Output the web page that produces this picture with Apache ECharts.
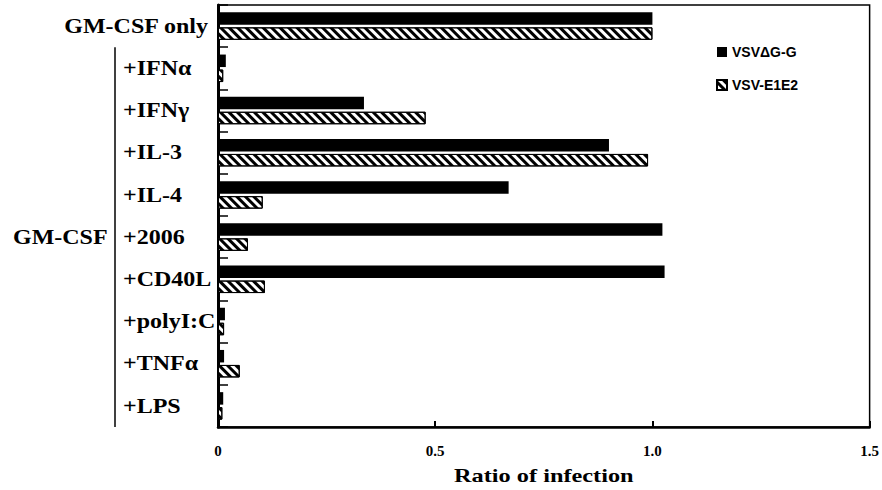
<!DOCTYPE html>
<html><head><meta charset="utf-8">
<script src="https://cdn.jsdelivr.net/npm/echarts@6/dist/echarts.min.js"></script>
<style>html,body{margin:0;padding:0;background:#fff}#c{width:882px;height:490px}</style>
</head><body><div id="c"></div>
<script>
// ---- data ----
const categories = ['GM-CSF only', '+IFNα', '+IFNγ', '+IL-3', '+IL-4', '+2006', '+CD40L', '+polyI:C', '+TNFα', '+LPS'];
const seriesNames = ['VSVΔG-G', 'VSV-E1E2'];
const vsvDeltaG = [1.0, 0.018, 0.336, 0.90, 0.669, 1.023, 1.028, 0.016, 0.014, 0.012];
const vsvE1E2 = [1.0, 0.012, 0.478, 0.99, 0.103, 0.069, 0.108, 0.014, 0.050, 0.010];
const xTickLabels = ['0', '0.5', '1.0', '1.5'];
const groupLabel = 'GM-CSF';
const xAxisName = 'Ratio of infection';

// ---- chart ----
const serif = '"Liberation Serif", "Times New Roman", serif';
const sans = '"Liberation Sans", Arial, sans-serif';
const chart = echarts.init(document.getElementById('c'), null, { renderer: 'svg' });

const option = {
  animation: false,
  backgroundColor: '#fff',
  grid: { left: 218, right: 12, top: 5, bottom: 63, show: true, borderColor: '#000', borderWidth: 1.5 },
  legend: {
    orient: 'vertical', left: 711, top: 40, itemWidth: 10, itemHeight: 10, itemGap: 19,
    icon: 'rect', data: seriesNames,
    textStyle: { fontFamily: sans, fontWeight: 'bold', fontSize: 14, color: '#000' }
  },
  xAxis: {
    type: 'value', min: 0, max: 1.5, interval: 0.5,
    axisLine: { show: true, lineStyle: { color: '#000', width: 2.5 } },
    axisTick: { show: true, inside: true, length: 6, lineStyle: { color: '#000', width: 2 } },
    splitLine: { show: false },
    axisLabel: {
      margin: 16, color: '#000', fontFamily: serif, fontWeight: 'bold', fontSize: 15,
      formatter: (v) => xTickLabels[Math.round(v / 0.5)]
    }
  },
  yAxis: {
    type: 'category', data: categories, inverse: true,
    axisLine: { show: true, lineStyle: { color: '#000', width: 3 } },
    axisTick: { show: true, inside: true, length: 10, lineStyle: { color: '#000', width: 1.5 } },
    axisLabel: { show: false },
    splitLine: { show: false }
  },
  series: [
    {
      type: 'bar', name: seriesNames[0], data: vsvDeltaG, barWidth: 12.5, barGap: '20%',
      itemStyle: { color: '#000' }
    },
    {
      type: 'bar', name: seriesNames[1], data: vsvE1E2, barWidth: 12.5, barGap: '20%',
      itemStyle: {
        color: '#fff', borderColor: '#000', borderWidth: 1,
        decal: { symbol: 'rect', symbolSize: 1, color: '#000', dashArrayX: [1, 0], dashArrayY: [2.5, 2.5], rotation: Math.PI / 4 }
      }
    }
  ]
};
chart.setOption(option);

// ---- category labels, placed from the category axis ----
const ys = categories.map(c => chart.convertToPixel({ yAxisIndex: 0 }, c));
const band = ys[1] - ys[0];
const stretch = 1.2;
const gfx = [];
categories.forEach((c, i) => {
  if (i === 0) {
    gfx.push({ type: 'text', x: 208, y: ys[i], scaleX: stretch,
      style: { text: c, align: 'right', verticalAlign: 'middle', fontFamily: serif, fontWeight: 'bold', fontSize: 20, fill: '#000' } });
  } else {
    gfx.push({ type: 'text', x: 123, y: ys[i], scaleX: stretch,
      style: { text: c, align: 'left', verticalAlign: 'middle', fontFamily: serif, fontWeight: 'bold', fontSize: 20, fill: '#000' } });
  }
});
const yTop = ys[1] - band / 2;
const yBot = ys[ys.length - 1] + band / 2;
gfx.push({ type: 'line', shape: { x1: 115, y1: yTop, x2: 115, y2: yBot }, style: { stroke: '#000', lineWidth: 1.5 } });
gfx.push({ type: 'text', x: 13, y: (ys[1] + ys[ys.length - 1]) / 2, scaleX: stretch,
  style: { text: groupLabel, align: 'left', verticalAlign: 'middle', fontFamily: serif, fontWeight: 'bold', fontSize: 20, fill: '#000' } });
const xMid = (chart.convertToPixel({ xAxisIndex: 0 }, 0) + chart.convertToPixel({ xAxisIndex: 0 }, 1.5)) / 2;
gfx.push({ type: 'text', x: xMid, y: 476, scaleX: 1.28,
  style: { text: xAxisName, align: 'center', verticalAlign: 'middle', fontFamily: serif, fontWeight: 'bold', fontSize: 19, fill: '#000' } });
chart.setOption({ graphic: { elements: gfx } });
</script>
</body></html>
